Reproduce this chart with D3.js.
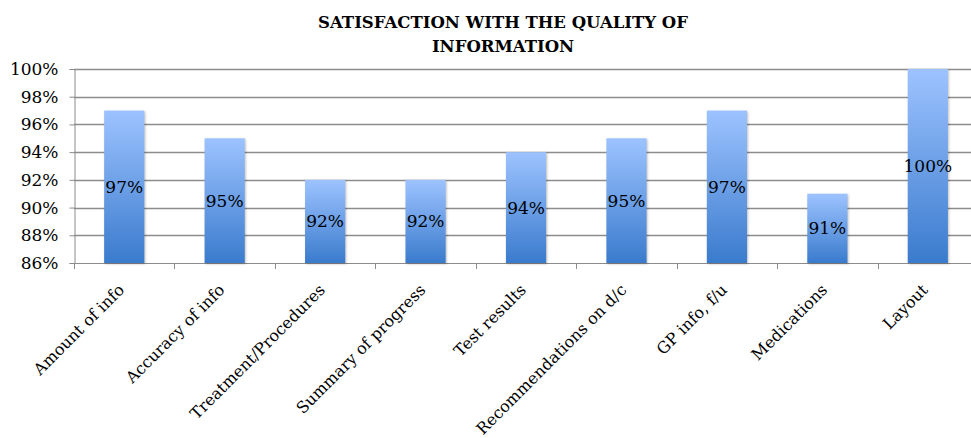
<!DOCTYPE html>
<html>
<head>
<meta charset="utf-8">
<script src="https://cdn.jsdelivr.net/npm/d3@7"></script>
<style>
  body { margin: 0; background: #fff; }
  svg { display: block; }
  svg text { font-family: "DejaVu Serif", serif; fill: #000; }
</style>
</head>
<body>
<div id="chart"></div>
<script>
const categories = ["Amount of info", "Accuracy of info", "Treatment/Procedures",
  "Summary of progress", "Test results", "Recommendations on d/c",
  "GP info, f/u", "Medications", "Layout"]
const values = [0.97, 0.95, 0.92, 0.92, 0.94, 0.95, 0.97, 0.91, 1.00]
const yTicks = [0.86, 0.88, 0.90, 0.92, 0.94, 0.96, 0.98, 1.00]
const titleLines = ["SATISFACTION WITH THE QUALITY OF", "INFORMATION"]

const width = 971, height = 438
const margin = {top: 69, left: 74, bottom: 175}
const bandWidth = 100.45
const fmt = d3.format(".0%")

const svg = d3.select("#chart").append("svg")
  .attr("width", width)
  .attr("height", height)

const grad = svg.append("defs").append("linearGradient")
  .attr("id", "barFill")
  .attr("x1", 0).attr("y1", 0).attr("x2", 0).attr("y2", 1)
grad.append("stop").attr("offset", "0%").attr("stop-color", "#9dc3ff")
grad.append("stop").attr("offset", "100%").attr("stop-color", "#3a7bcd")

const x = d3.scaleBand()
  .domain(categories)
  .range([margin.left, margin.left + bandWidth * categories.length])
  .paddingInner(0.6)
  .paddingOuter(0.3)

const y = d3.scaleLinear()
  .domain([0.86, 1.00])
  .range([263, margin.top])

// gridlines
svg.append("g")
  .selectAll("line")
  .data(yTicks.slice(1))
  .join("line")
    .attr("x1", margin.left)
    .attr("x2", width)
    .attr("y1", d => Math.round(y(d)) + 0.5)
    .attr("y2", d => Math.round(y(d)) + 0.5)
    .attr("stroke", "#8c8c8c")
    .attr("stroke-width", 1.3)

// y axis
const yAxis = svg.append("g")
  .attr("transform", `translate(${margin.left + 0.5},0)`)
  .call(d3.axisLeft(y).tickValues(yTicks).tickFormat(fmt).tickSize(5).tickPadding(11))
yAxis.select(".domain").attr("stroke", "#8c8c8c")
yAxis.selectAll(".tick line").attr("stroke", "#8c8c8c")
yAxis.selectAll("text").attr("font-size", 17)

// x axis line and band ticks
svg.append("line")
  .attr("x1", margin.left).attr("x2", width)
  .attr("y1", Math.round(y(0.86)) + 0.5).attr("y2", Math.round(y(0.86)) + 0.5)
  .attr("stroke", "#8c8c8c")
svg.append("g")
  .selectAll("line")
  .data(d3.range(categories.length + 1))
  .join("line")
    .attr("x1", i => Math.round(margin.left + i * bandWidth) + 0.5)
    .attr("x2", i => Math.round(margin.left + i * bandWidth) + 0.5)
    .attr("y1", y(0.86))
    .attr("y2", y(0.86) + 6)
    .attr("stroke", "#8c8c8c")

// bars
svg.append("g")
  .selectAll("rect")
  .data(values)
  .join("rect")
    .attr("x", (d, i) => x(categories[i]))
    .attr("y", d => y(d))
    .attr("width", x.bandwidth())
    .attr("height", d => y(0.86) - y(d))
    .attr("fill", "url(#barFill)")
    .style("filter", "drop-shadow(1px 1px 1px rgba(0,0,0,0.25))")

// value labels
svg.append("g")
  .selectAll("text")
  .data(values)
  .join("text")
    .attr("x", (d, i) => x(categories[i]) + x.bandwidth() / 2)
    .attr("y", d => (y(d) + y(0.86)) / 2 + 6)
    .attr("text-anchor", "middle")
    .attr("font-size", 17)
    .text(d => fmt(d))

// category labels
svg.append("g")
  .selectAll("text")
  .data(categories)
  .join("text")
    .attr("transform", d => `translate(${x(d) + x.bandwidth() / 2 + 1},${y(0.86) + 28}) rotate(-45)`)
    .attr("text-anchor", "end")
    .attr("font-size", 16)
    .text(d => d)

// title
svg.append("text")
  .attr("y", 28)
  .attr("text-anchor", "middle")
  .attr("font-size", 16.5)
  .attr("font-weight", "bold")
  .selectAll("tspan")
  .data(titleLines)
  .join("tspan")
    .attr("x", 503)
    .attr("dy", (d, i) => i ? 24 : 0)
    .text(d => d)
</script>
</body>
</html>
